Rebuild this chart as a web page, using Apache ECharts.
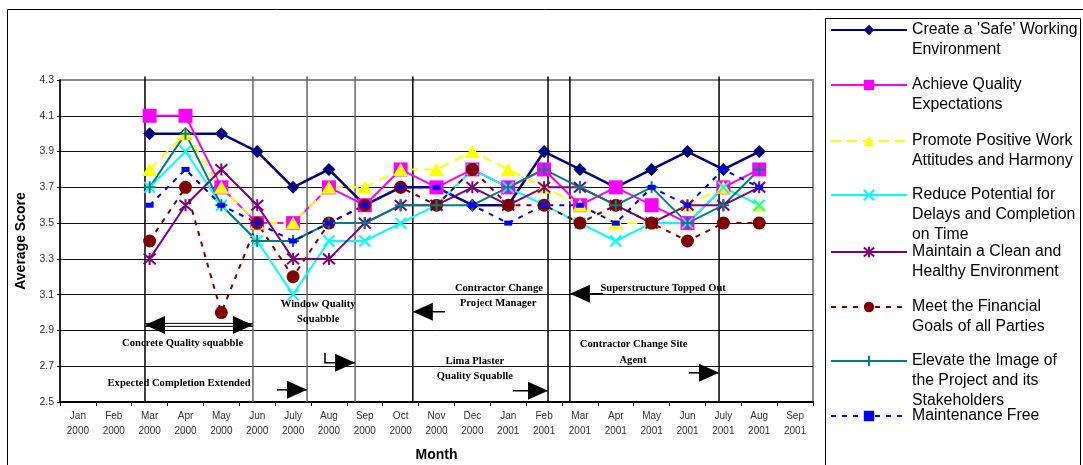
<!DOCTYPE html>
<html>
<head>
<meta charset="utf-8">
<script src="https://cdn.jsdelivr.net/npm/echarts@6/dist/echarts.min.js"></script>
<style>
html, body { margin: 0; padding: 0; background: #fff; }
#chart { width: 1083px; height: 465px; }
</style>
</head>
<body>
<div id="chart"></div>
<script>
// months Jan 2000 .. Sep 2001
const months = [
  'Jan\n2000', 'Feb\n2000', 'Mar\n2000', 'Apr\n2000', 'May\n2000', 'Jun\n2000', 'July\n2000',
  'Aug\n2000', 'Sep\n2000', 'Oct\n2000', 'Nov\n2000', 'Dec\n2000', 'Jan\n2001', 'Feb\n2001',
  'Mar\n2001', 'Apr\n2001', 'May\n2001', 'Jun\n2001', 'July\n2001', 'Aug\n2001', 'Sep\n2001'
]
const safeWork    = [null, null, 4.0, 4.0, 4.0, 3.9, 3.7, 3.8, 3.6, 3.7, 3.7, 3.6, 3.6, 3.9, 3.8, 3.7, 3.8, 3.9, 3.8, 3.9, null]
const quality     = [null, null, 4.1, 4.1, 3.7, 3.5, 3.5, 3.7, 3.6, 3.8, 3.7, 3.8, 3.7, 3.8, 3.6, 3.7, 3.6, 3.5, 3.7, 3.8, null]
const attitudes   = [null, null, 3.8, 4.0, 3.7, 3.5, 3.5, 3.7, 3.7, 3.8, 3.8, 3.9, 3.8, 3.7, 3.6, 3.5, 3.5, 3.6, 3.7, 3.6, null]
const delays      = [null, null, 3.7, 3.9, 3.6, 3.4, 3.1, 3.4, 3.4, 3.5, 3.6, 3.8, 3.7, 3.6, 3.5, 3.4, 3.5, 3.5, 3.7, 3.6, null]
const clean       = [null, null, 3.3, 3.6, 3.8, 3.6, 3.3, 3.3, 3.5, 3.6, 3.6, 3.7, 3.6, 3.7, 3.7, 3.6, 3.5, 3.6, 3.6, 3.7, null]
const financial   = [null, null, 3.4, 3.7, 3.0, 3.5, 3.2, 3.5, 3.6, 3.7, 3.6, 3.8, 3.6, 3.6, 3.5, 3.6, 3.5, 3.4, 3.5, 3.5, null]
const image       = [null, null, 3.7, 4.0, 3.6, 3.4, 3.4, 3.5, 3.5, 3.6, 3.6, 3.6, 3.7, 3.8, 3.7, 3.6, 3.7, 3.5, 3.6, 3.8, null]
const maintenance = [null, null, 3.6, 3.8, 3.6, 3.5, 3.4, 3.5, 3.6, 3.7, 3.7, 3.6, 3.5, 3.6, 3.6, 3.5, 3.7, 3.6, 3.8, 3.7, null]

const legendLines = [
  ["Create a 'Safe' Working", 'Environment'],
  ['Achieve Quality', 'Expectations'],
  ['Promote Positive Work', 'Attitudes and Harmony'],
  ['Reduce Potential for', 'Delays and Completion', 'on Time'],
  ['Maintain a Clean and', 'Healthy Environment'],
  ['Meet the Financial', 'Goals of all Parties'],
  ['Elevate the Image of', 'the Project and its', 'Stakeholders'],
  ['Maintenance Free']
]
const names = legendLines.map(l => l.join(' '))

// event markers, x in month units (0 = start of Jan 2000), y in score units
const eventX = [2.37, 5.38, 6.89, 8.23, 9.84, 13.61, 14.22, 18.38]
const eventGrey = [false, true, true, true, false, false, false, false]
const arrows = [
  { pts: [[5.38, 2.931], [2.37, 2.931]], both: true },
  { pts: [[6.05, 2.568], [6.89, 2.568]] },
  { pts: [[7.39, 2.775], [7.39, 2.719], [8.23, 2.719]] },
  { pts: [[10.74, 3.004], [9.84, 3.004]] },
  { pts: [[15.14, 3.105], [14.22, 3.105]] },
  { pts: [[12.63, 2.563], [13.61, 2.563]] },
  { pts: [[17.54, 2.663], [18.38, 2.663]] }
]
const notes = [
  ['Concrete Quality squabble', 3.42, 2.83],
  ['Expected Completion Extended', 3.32, 2.607],
  ['Window Quality', 7.2, 3.049], ['Squabble', 7.2, 2.965],
  ['Contractor Change', 12.24, 3.138], ['Project Manager', 12.22, 3.054],
  ['Superstructure Topped Out', 16.82, 3.138],
  ['Contractor Change Site', 16.0, 2.82], ['Agent', 15.98, 2.736],
  ['Lima Plaster', 11.57, 2.73], ['Quality Squablle', 11.57, 2.646]
]

const SANS = '"Liberation Sans", Arial, sans-serif'
const SERIF = '"Liberation Serif", "Times New Roman", serif'
const xMark = 'path://M0,0L10,10M10,0L0,10'
const starMark = 'path://M5,0L5,10M0.6,0.6L9.4,9.4M9.4,0.6L0.6,9.4'
const plusMark = 'path://M5,0L5,10M0,5L10,5'

function mk(i, data, color, symbol, size, lineType, extra) {
  return Object.assign({
    name: names[i], type: 'line', data, symbol, symbolSize: size,
    connectNulls: false,
    lineStyle: { color, width: 2, type: lineType },
    itemStyle: { color },
    emphasis: { disabled: true }
  }, extra || {})
}
const stroked = c => ({ itemStyle: { color: c, borderColor: c, borderWidth: 2 } })

const chart = echarts.init(document.getElementById('chart'))

const legendY = [30, 85, 141, 195, 252, 307, 361, 416]
const legends = legendLines.map((lines, i) => {
  const k = lines.length
  return {
    data: [names[i]], orient: 'vertical', left: 830, top: legendY[i] - (2 * k - 1) * 10,
    padding: 0, itemWidth: 76, itemHeight: 13, selectedMode: false,
    formatter: () => '\n'.repeat(k - 1) + lines.join('\n'),
    textStyle: { fontSize: 15.8, fontFamily: SANS, color: '#000', lineHeight: 20 }
  }
})

chart.setOption({
  animation: false,
  legend: legends,
  grid: { left: 60, right: 270, top: 80, bottom: 63, outerBoundsMode: 'none', show: true, borderColor: '#8a8a8a', borderWidth: 2, backgroundColor: 'transparent' },
  xAxis: [{
    type: 'category', data: months, boundaryGap: true,
    name: 'Month', nameLocation: 'middle', nameGap: 46,
    nameTextStyle: { fontFamily: SANS, fontWeight: 'bold', fontSize: 14, color: '#000' },
    axisLine: { lineStyle: { color: '#000', width: 2 } },
    axisTick: { show: true, length: 4, lineStyle: { color: '#000' } },
    axisLabel: { fontFamily: SANS, fontSize: 10, color: '#333', lineHeight: 15, margin: 7, interval: 0 },
    splitLine: { show: false }
  }, {
    type: 'value', min: 0, max: 21, show: false
  }],
  yAxis: {
    type: 'value', min: 2.5, max: 4.3, interval: 0.2,
    name: 'Average Score', nameLocation: 'middle', nameGap: 31,
    nameTextStyle: { fontFamily: SANS, fontWeight: 'bold', fontSize: 14, color: '#000' },
    axisLine: { show: true, lineStyle: { color: '#000', width: 1.5 } },
    axisTick: { show: true, length: 3, lineStyle: { color: '#000' } },
    axisLabel: { fontFamily: SANS, fontSize: 10.5, color: '#333', margin: 6, formatter: v => v.toFixed(1) },
    splitLine: { show: true, showMaxLine: false, showMinLine: false, lineStyle: { color: '#111', width: 1 } }
  },
  series: [
    mk(0, safeWork, '#000080', 'diamond', 13, 'solid', { lineStyle: { color: '#000080', width: 2.5 } }),
    mk(1, quality, '#ff00ff', 'rect', 14, 'solid'),
    mk(2, attitudes, '#ffff00', 'triangle', [15, 13], [10, 6]),
    mk(3, delays, '#00ffff', xMark, 11, 'solid', stroked('#00ffff')),
    mk(4, clean, '#800080', starMark, 12, 'solid', stroked('#800080')),
    mk(5, financial, '#800000', 'circle', 13, [5, 6]),
    mk(6, image, '#008080', plusMark, 12, 'solid', stroked('#008080')),
    mk(7, maintenance, '#0000ff', 'rect', [8, 5], [5, 6])
  ]
})

// annotations in data coords → pixels
const px = (x, y) => chart.convertToPixel({ xAxisIndex: 1, yAxisIndex: 0 }, [x, y])
const g = []
eventX.forEach((x, i) => {
  const a = px(x, 4.32), b = px(x, 2.5)
  g.push({ type: 'line', z: 1, shape: { x1: a[0], y1: a[1], x2: b[0], y2: b[1] },
    style: { stroke: eventGrey[i] ? '#666' : '#000', lineWidth: 1.5 } })
})
function head(tip, from) {
  const dx = tip[0] - from[0], dy = tip[1] - from[1]
  const L = Math.hypot(dx, dy), ux = dx / L, uy = dy / L
  const bx = tip[0] - ux * 20, by = tip[1] - uy * 20
  return { type: 'polygon', z: 10, shape: { points: [tip, [bx - uy * 9, by + ux * 9], [bx + uy * 9, by - ux * 9]] }, style: { fill: '#000' } }
}
arrows.forEach(a => {
  const p = a.pts.map(q => px(q[0], q[1]))
  if (a.both) {
    g.push({ type: 'line', z: 10, shape: { x1: p[0][0], y1: p[0][1] - 1.5, x2: p[1][0], y2: p[1][1] - 1.5 }, style: { stroke: '#000', lineWidth: 1 } })
    g.push({ type: 'line', z: 10, shape: { x1: p[0][0], y1: p[0][1] + 1.5, x2: p[1][0], y2: p[1][1] + 1.5 }, style: { stroke: '#000', lineWidth: 1 } })
    g.push(head(p[0], p[1]))
  } else {
    g.push({ type: 'polyline', z: 10, shape: { points: p }, style: { stroke: '#000', lineWidth: 1.5, fill: null } })
  }
  g.push(head(p[p.length - 1], p[p.length - 2]))
})
notes.forEach(n => {
  const p = px(n[1], n[2])
  g.push({ type: 'text', z: 10, x: p[0], y: p[1],
    style: { text: n[0], align: 'center', verticalAlign: 'middle', font: 'bold 10.6px ' + SERIF, fill: '#000' } })
})
// outer frame and legend box
g.push({ type: 'line', z: 10, shape: { x1: 7.5, y1: 9.5, x2: 7.5, y2: 465 }, style: { stroke: '#000', lineWidth: 1 } })
g.push({ type: 'line', z: 10, shape: { x1: 7.5, y1: 9.5, x2: 1083, y2: 9.5 }, style: { stroke: '#000', lineWidth: 1 } })
g.push({ type: 'rect', z: 10, shape: { x: 825.5, y: 18.5, width: 255, height: 460 }, style: { stroke: '#000', lineWidth: 1, fill: null } })

chart.setOption({ graphic: { elements: g } })
</script>
</body>
</html>
